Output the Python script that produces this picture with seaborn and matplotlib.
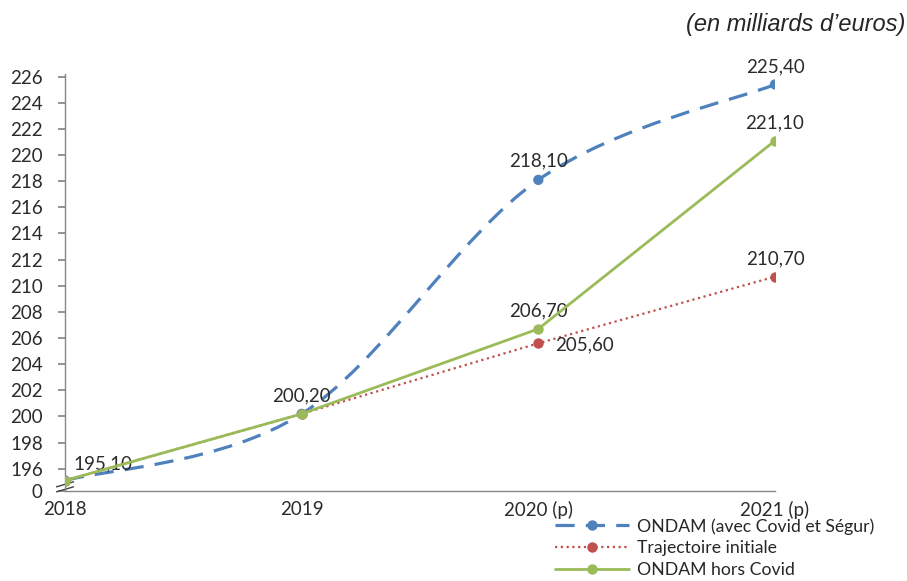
import matplotlib
matplotlib.use("Agg")
import matplotlib.pyplot as plt
import seaborn as sns
import pandas as pd
import numpy as np
from matplotlib.path import Path
from matplotlib.patches import PathPatch
from matplotlib.lines import Line2D

# data (en milliards d'euros)
years = ["2018", "2019", "2020 (p)", "2021 (p)"]
ondam_covid = [195.10, 200.20, 218.10, 225.40]
trajectoire = [195.10, 200.20, 205.60, 210.70]
ondam_hors = [195.10, 200.20, 206.70, 221.10]
y_ticks = [196, 198, 200, 202, 204, 206, 208, 210, 212, 214, 216, 218, 220, 222, 224, 226]
y_break = 194.3

blue = "#4F81BD"
red = "#C0504D"
green = "#9BBB59"
grey = "#868686"
txt = "#2b2b2b"

sns.set_theme(style="white")
plt.rcParams['font.family'] = ['Lato', 'DejaVu Sans']

df = pd.DataFrame({"pos": np.arange(len(years)), "covid": ondam_covid,
                   "traj": trajectoire, "hors": ondam_hors})

fig = plt.figure(figsize=(9.07, 5.81), dpi=100)
ax = fig.add_axes([65/907, 1-491/581, 710/907, 417/581])

# smoothed line (excel style) for ONDAM avec Covid
pts = np.column_stack([df["pos"], df["covid"]])
ext = np.vstack([pts[0], pts, pts[-1]])
verts = [tuple(pts[0])]
codes = [Path.MOVETO]
for i in range(1, len(ext) - 2):
    p0, p1, p2, p3 = ext[i-1], ext[i], ext[i+1], ext[i+2]
    c1 = p1 + (p2 - p0) / 6
    c2 = p2 - (p3 - p1) / 6
    verts += [tuple(c1), tuple(c2), tuple(p2)]
    codes += [Path.CURVE4] * 3
patch = PathPatch(Path(verts, codes), facecolor="none", edgecolor=blue, lw=2.3,
                  linestyle=(0, (6, 3.5)), capstyle="butt", zorder=2)
ax.add_patch(patch)
sns.scatterplot(data=df, x="pos", y="covid", color=blue, s=55, edgecolor="none", zorder=3, ax=ax)

sns.lineplot(data=df, x="pos", y="traj", color=red, lw=1.6, linestyle=(0, (1, 1.6)),
             marker="o", markersize=7.5, markeredgewidth=0, zorder=3, ax=ax)
sns.lineplot(data=df, x="pos", y="hors", color=green, lw=2, marker="o",
             markersize=7.5, markeredgewidth=0, zorder=4, ax=ax)

ax.set_xlim(0, 3)
ax.set_ylim(y_break, 226.2)
ax.set_xticks(df["pos"])
ax.set_xticklabels(years)
ax.set_yticks([y_break] + y_ticks)
ax.set_yticklabels(["0"] + [str(t) for t in y_ticks])
ax.set_xlabel("")
ax.set_ylabel("")
for s in ["top", "right"]:
    ax.spines[s].set_visible(False)
for s in ["left", "bottom"]:
    ax.spines[s].set_color(grey)
    ax.spines[s].set_linewidth(1)
ax.tick_params(axis="y", left=True, length=5, color=grey, labelsize=13.5, pad=11, labelcolor=txt)
ax.tick_params(axis="x", bottom=False, labelsize=13.5, pad=1.5, labelcolor=txt)

# axis break mark
for dy in (0.004, 0.016):
    ax.plot([-0.012, 0.012], [dy - 0.006, dy + 0.006], transform=ax.transAxes,
            color="#404040", lw=1, clip_on=False)

# data labels
def lab(x, y, s, dx=0, dy=13, ha="center"):
    ax.annotate(s, (x, y), xytext=(dx, dy), textcoords="offset points",
                ha=ha, va="center", fontsize=13.5, color=txt)

lab(0, ondam_hors[0], "195,10", dx=6, dy=12, ha="left")
lab(1, ondam_hors[1], "200,20", dy=13)
lab(2, ondam_covid[2], "218,10", dy=14)
lab(3, ondam_covid[3], "225,40", dy=13)
lab(2, ondam_hors[2], "206,70", dy=13)
lab(2, trajectoire[2], "205,60", dx=12, dy=-1.5, ha="left")
lab(3, ondam_hors[3], "221,10", dy=13)
lab(3, trajectoire[3], "210,70", dy=13)

fig.text(905/907, 1-24/581, "(en milliards d\u2019euros)", ha="right", va="center",
         fontsize=17, style="italic", family="Liberation Sans")

handles = [
    Line2D([], [], color=blue, lw=2.3, linestyle=(0, (6, 3.5)), marker="o", markersize=7.5, markeredgewidth=0),
    Line2D([], [], color=red, lw=1.6, linestyle=(0, (1, 1.6)), marker="o", markersize=7.5, markeredgewidth=0),
    Line2D([], [], color=green, lw=2, marker="o", markersize=7.5, markeredgewidth=0),
]
fig.legend(handles, ["ONDAM (avec Covid et Ségur)", "Trajectoire initiale", "ONDAM hors Covid"],
           loc="upper left", bbox_to_anchor=(555/907, 1-518/581), frameon=False,
           fontsize=12.7, handlelength=4.2, borderpad=0, borderaxespad=0, labelspacing=0.33,
           handletextpad=0.45)

fig.savefig("out.png", dpi=100)
